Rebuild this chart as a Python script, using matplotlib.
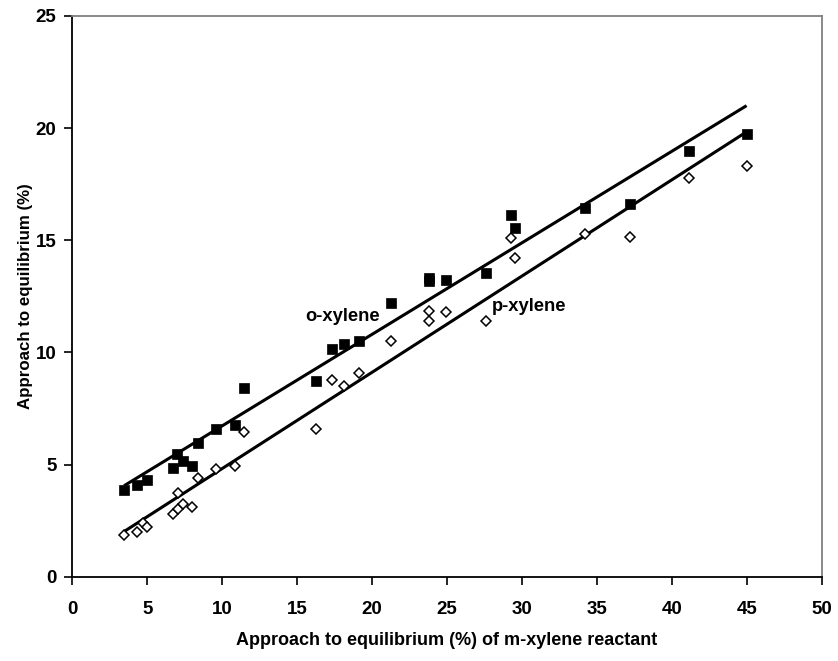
import numpy as np
import matplotlib
matplotlib.use("Agg")
import matplotlib.pyplot as plt

plt.rcParams['font.family'] = ['Liberation Sans', 'DejaVu Sans']
plt.rcParams['font.weight'] = 'bold'

# m-xylene approach to equilibrium (%) and product approach (%)
o_x = [3.45, 4.34, 4.96, 6.74, 7.0, 7.37, 7.99, 8.39, 9.59, 10.85, 11.46,
       16.26, 17.35, 18.15, 19.13, 21.26, 23.82, 23.82, 24.95, 27.58,
       29.27, 29.53, 34.18, 37.22, 41.16, 44.99]
o_y = [3.88, 4.08, 4.31, 4.83, 5.45, 5.15, 4.93, 5.95, 6.58, 6.78, 8.40,
       8.72, 10.14, 10.39, 10.52, 12.19, 13.32, 13.17, 13.25, 13.55,
       16.13, 15.56, 16.45, 16.60, 18.98, 19.74]

p_x = [3.45, 4.34, 4.74, 4.96, 6.74, 7.05, 7.37, 7.05, 8.0, 8.39, 9.57,
       10.85, 11.46, 16.26, 17.35, 18.13, 19.13, 21.28, 23.82, 23.80,
       24.95, 27.58, 29.27, 29.53, 34.18, 37.22, 41.16, 44.99]
p_y = [1.86, 1.98, 2.38, 2.20, 2.80, 3.00, 3.23, 3.72, 3.09, 4.39, 4.80,
       4.95, 6.47, 6.58, 8.77, 8.52, 9.07, 10.51, 11.86, 11.41,
       11.79, 11.40, 15.09, 14.20, 15.27, 15.13, 17.76, 18.33]

x_ticks = list(range(0, 55, 5))
y_ticks = list(range(0, 30, 5))

fig = plt.figure(figsize=(8.38, 6.61), dpi=100)
ax = fig.add_axes([0.0863, 0.1275, 0.8942, 0.8483])

# linear trend lines over each data range
for xs, ys in ((o_x, o_y), (p_x, p_y)):
    xs = np.asarray(xs); ys = np.asarray(ys)
    k, b = np.polyfit(xs, ys, 1)
    xl = np.array([xs.min(), xs.max()])
    ax.plot(xl, k * xl + b, color='black', lw=2.2, solid_capstyle='butt', zorder=2)

ax.plot(o_x, o_y, linestyle='none', marker='s', ms=6.5, mfc='black',
        mec='black', mew=0.5, zorder=3)
ax.plot(p_x, p_y, linestyle='none', marker='D', ms=5, mfc='white',
        mec='black', mew=1.1, zorder=3)

ax.text(15.52, 11.62, 'o-xylene', fontsize=13.2, fontweight='bold',
        ha='left', va='center')
ax.text(28.0, 12.07, 'p-xylene', fontsize=13.2, fontweight='bold',
        ha='left', va='center')

ax.set_xlim(0, 50)
ax.set_ylim(0, 25)
ax.set_xticks(x_ticks)
ax.set_yticks(y_ticks)
ax.tick_params(direction='out', length=5.5, width=1.2, labelsize=13.5,
               colors='black')
ax.tick_params(axis='x', pad=12)
ax.tick_params(axis='y', pad=6)
for lab in ax.get_xticklabels() + ax.get_yticklabels():
    lab.set_fontweight('bold')

for side in ('left', 'bottom'):
    ax.spines[side].set_color('black')
    ax.spines[side].set_linewidth(1.3)
for side in ('top', 'right'):
    ax.spines[side].set_color('#808080')
    ax.spines[side].set_linewidth(1.3)

ax.set_xlabel('Approach to equilibrium (%) of m-xylene reactant',
              fontsize=13, fontweight='bold')
ax.set_ylabel('Approach to equilibrium (%)', fontsize=12.2,
              fontweight='bold')
ax.xaxis.set_label_coords(0.5, -(640 - 576.7) / 560.7, transform=ax.transAxes)
ax.yaxis.set_label_coords(-(72.3 - 25) / 749.4, 0.5, transform=ax.transAxes)
ax.xaxis.label.set_va('center')
ax.yaxis.label.set_va('center')

fig.savefig('out.png', dpi=100)
